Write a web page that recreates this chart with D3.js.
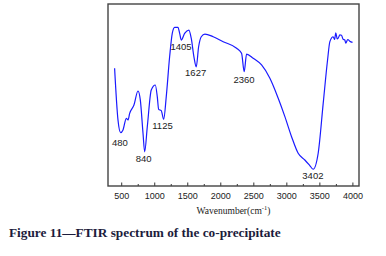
<!DOCTYPE html>
<html>
<head>
<meta charset="utf-8">
<script src="https://cdn.jsdelivr.net/npm/d3@7"></script>
<style>
  body { margin: 0; background: #fff; }
  svg { display: block; }
</style>
</head>
<body>
<div id="chart"></div>
<script>
// FTIR spectrum, values (transmittance, arbitrary %)
const wavenumbers = [400, 451, 492, 527, 577, 603, 628, 693, 754, 789, 830, 855, 895, 955, 1016, 1046, 1067, 1106, 1143,
  1182, 1233, 1273, 1309, 1359, 1385, 1409, 1460, 1525, 1560, 1601, 1636, 1672, 1712, 1767, 1893, 2044, 2247, 2322,
  2362, 2398, 2498, 2625, 2751, 2877, 2978, 3079, 3179, 3280, 3350, 3406, 3482, 3558, 3624, 3659, 3709, 3730, 3749,
  3770, 3785, 3810, 3835, 3860, 3885, 3900, 3930, 3960, 4002];
const transmittance = [64.7, 36.3, 29.3, 30.8, 37.2, 36.3, 39.9, 44.5, 52.2, 47.3, 29, 18.8, 32.6, 52.7, 55.5, 49.1, 42.1, 41.4, 36.6,
  49.1, 71, 83.9, 87.2, 87.2, 83.9, 80.2, 83.9, 85.7, 81.2, 71, 65.5, 76.5, 82, 83.5, 82, 79.3, 75.7, 72.9,
  62.8, 72.5, 70.2, 66.5, 59.2, 48.2, 38.1, 27.1, 18, 14.3, 11.5, 9.2, 18, 45.4, 69.2, 79.3, 82, 80.5, 84.2,
  80.8, 81.2, 83, 82.8, 80.6, 80.2, 78.5, 80.5, 79.6, 78.9];

const peakWavenumbers = [480, 840, 1125, 1405, 1627, 2360, 3402];
const peakLabels = ["480", "840", "1125", "1405", "1627", "2360", "3402"];
const peakLabelY = [22, 13.4, 31.2, 74.7, 60.4, 56.4, 3.7];

const xTicks = [500, 1000, 1500, 2000, 2500, 3000, 3500, 4000];
const xMinorTicks = d3.range(750, 4000, 500);

const W = 386, H = 256;
const margin = { top: 4, right: 27, bottom: 70, left: 108 };
const width = W - margin.left - margin.right;
const height = H - margin.top - margin.bottom;

const svg = d3.select("#chart").append("svg")
  .attr("width", W)
  .attr("height", H);

const g = svg.append("g")
  .attr("transform", `translate(${margin.left},${margin.top})`);

const x = d3.scaleLinear().domain([300, 4100]).range([0, width]);
const y = d3.scaleLinear().domain([0, 100]).range([height, 0]);

// minor ticks (inward)
g.append("g")
  .attr("transform", `translate(0,${height})`)
  .call(d3.axisBottom(x).tickValues(xMinorTicks).tickSize(-2).tickFormat(""))
  .call(a => a.select(".domain").remove())
  .selectAll("line").attr("stroke", "#333");

// major ticks + labels
const xAxis = g.append("g")
  .attr("transform", `translate(0,${height})`)
  .call(d3.axisBottom(x).tickValues(xTicks).tickSizeInner(-3.5).tickSizeOuter(0).tickPadding(7).tickFormat(d3.format("d")));
xAxis.select(".domain").remove();
xAxis.selectAll("line").attr("stroke", "#333");
xAxis.selectAll("text")
  .attr("font-family", "Liberation Sans, Arial, sans-serif")
  .attr("font-size", 9)
  .attr("fill", "#222");

// frame
g.append("rect")
  .attr("x", 0).attr("y", 0)
  .attr("width", width).attr("height", height)
  .attr("fill", "none")
  .attr("stroke", "#444")
  .attr("stroke-width", 1.4);

const line = d3.line()
  .x((d, i) => x(wavenumbers[i]))
  .y(d => y(d))
  .curve(d3.curveMonotoneX);

g.append("path")
  .datum(transmittance)
  .attr("d", line)
  .attr("fill", "none")
  .attr("stroke", "#1a1aff")
  .attr("stroke-width", 1.2);

g.selectAll(".peak")
  .data(peakLabels)
  .enter().append("text")
  .attr("class", "peak")
  .attr("x", (d, i) => x(peakWavenumbers[i]))
  .attr("y", (d, i) => y(peakLabelY[i]))
  .attr("text-anchor", "middle")
  .attr("font-family", "Liberation Sans, Arial, sans-serif")
  .attr("font-size", 9.5)
  .attr("fill", "#222")
  .text(d => d);

// axis title
const title = g.append("text")
  .attr("x", width / 2)
  .attr("y", height + 28)
  .attr("text-anchor", "middle")
  .attr("font-family", "Liberation Serif, Times New Roman, serif")
  .attr("font-size", 9.5)
  .attr("fill", "#222");
title.append("tspan").text("Wavenumber(cm");
title.append("tspan").attr("dy", -4).attr("font-size", 6.5).text("-1");
title.append("tspan").attr("dy", 4).text(")");

// caption
svg.append("text")
  .attr("x", 9)
  .attr("y", 237)
  .attr("font-family", "Liberation Serif, Times New Roman, serif")
  .attr("font-weight", "bold")
  .attr("font-size", 13.3)
  .attr("fill", "#1c1c3c")
  .text("Figure 11\u2014FTIR spectrum of the co-precipitate");
</script>
</body>
</html>
